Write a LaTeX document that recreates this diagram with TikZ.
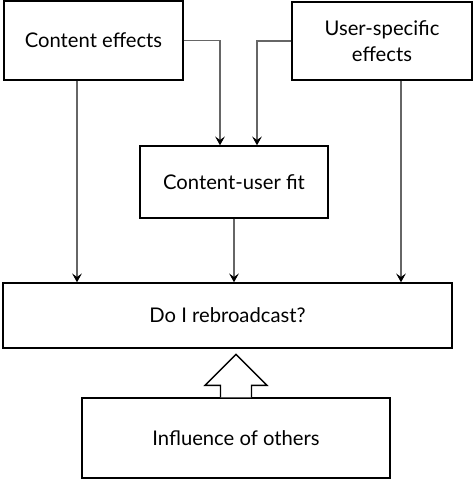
\documentclass[tikz,border=0pt]{standalone}
\usepackage{fontspec}
\setmainfont{Lato}
\usetikzlibrary{positioning, arrows.meta, calc}

\begin{document}
\begin{tikzpicture}[
  fbox/.style={draw=black, line width=0.8pt, fill=white, align=center,
               font=\fontsize{11.5}{15}\selectfont, inner sep=2pt},
  arr/.style={-{Stealth[length=5pt, width=5.5pt, inset=2pt, black]}, black!60, line width=0.6pt},
  push/.style={draw=black, line width=0.8pt, fill=white, line join=miter},
]
  \useasboundingbox (0, 0) rectangle (9.46, -9.6);

  \node[fbox, minimum width=3.58cm, minimum height=1.58cm] (ceff) at (1.87, -0.81)
    {Content effects};
  \node[fbox, minimum width=3.60cm, minimum height=1.56cm] (ueff) at (7.64, -0.82)
    {User-specific\\effects};
  \node[fbox, minimum width=3.76cm, minimum height=1.44cm] (fit) at (4.68, -3.64)
    {Content-user fit};
  \node[fbox, minimum width=8.98cm, minimum height=1.30cm] (reb) at (4.55, -6.31)
    {Do I rebroadcast?};
  \node[fbox, minimum width=6.16cm, minimum height=1.60cm] (infl) at (4.72, -8.76)
    {Influence of others};

  % side effects into the fit box
  \draw[arr] (ceff.east) -| ([xshift=-0.28cm]fit.north);
  \draw[arr] (ueff.west) -| ([xshift=0.46cm]fit.north);

  % everything into the decision
  \draw[arr] ([xshift=-0.33cm]ceff.south) -- ([xshift=-0.33cm]ceff.south |- reb.north);
  \draw[arr] (fit.south) -- (fit.south |- reb.north);
  \draw[arr] ([xshift=0.38cm]ueff.south) -- ([xshift=0.38cm]ueff.south |- reb.north);

  % block arrow from the others
  \draw[push] ([xshift=-0.31cm]infl.north) -- ++(0, 0.24) -- ++(-0.31, 0)
    -- ([yshift=0.86cm]infl.north) -- ($([xshift=0.62cm]infl.north) + (0, 0.24)$)
    -- ++(-0.31, 0) -- ([xshift=0.31cm]infl.north);
\end{tikzpicture}
\end{document}
